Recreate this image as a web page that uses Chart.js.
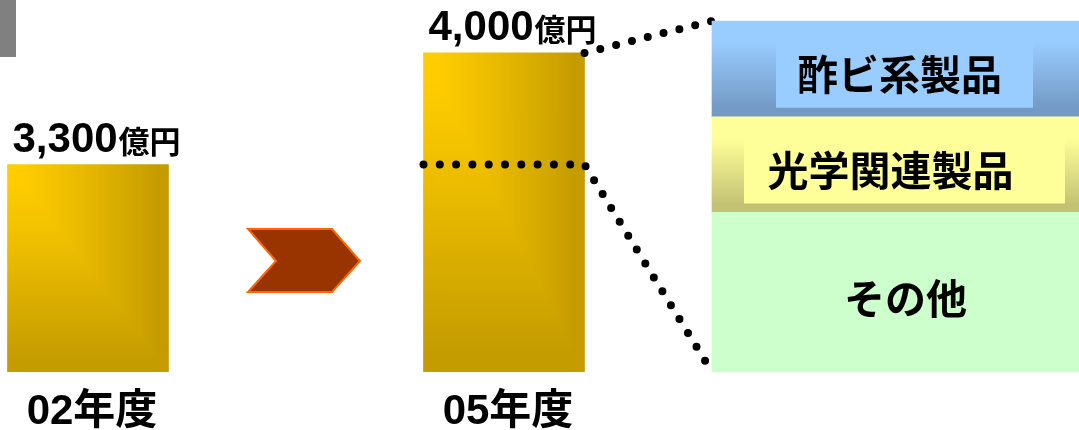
<!DOCTYPE html>
<html>
<head>
<meta charset="utf-8">
<script src="https://cdn.jsdelivr.net/npm/chart.js@4.4.1/dist/chart.umd.min.js"></script>
<style>
html,body{margin:0;padding:0;background:#fff;overflow:hidden;width:1079px;height:430px;}
#wrap{position:absolute;left:-16px;top:0;width:1095px;height:430px;}
#mark{position:absolute;left:0;top:0;width:16px;height:57px;background:#808080;}
</style>
</head>
<body>
<div id="wrap"><canvas id="c"></canvas></div>
<div id="mark"></div>
<script>
// ---- data ----
const categories = ['02年度', '', '05年度', '', ''];
const sales = [3300, null, 4000, null, null];
const salesUnit = '億円';
const segmentLabels = ['その他', '光学関連製品', '酢ビ系製品'];
const segmentShares = [5, 3, 3];
const arrowIndex = 1;
const breakdownIndex = 4;

// ---- styles ----
const barThickness = 161;
const segmentFills = [
  ['#CCFFCC', '#CCFFCC'],
  ['#FFFF99', '#C3C274'],
  ['#99CCFF', '#7399C4']
];
const segmentBoxes = [null, {w: 321, color: '#FFFF99'}, {w: 257, color: '#99CCFF'}];
const segmentTextDx = [10, -5, 4];
const CJK = '"Noto Sans CJK JP", "Noto Sans CJK SC", sans-serif';

const totalShare = segmentShares.reduce((a, b) => a + b, 0);

// rectangular "corner" gradient (bright at top-left, darker toward right and bottom)
const patternCache = {};
function cornerPattern(chartCtx, w, h) {
  w = Math.max(1, Math.round(w)); h = Math.max(1, Math.round(h));
  const key = w + 'x' + h;
  if (!patternCache[key]) {
    const off = document.createElement('canvas');
    off.width = w; off.height = h;
    const octx = off.getContext('2d');
    const img = octx.createImageData(w, h);
    const c0 = [255, 204, 0], c1 = [196, 156, 0];
    for (let y = 0; y < h; y++) {
      for (let x = 0; x < w; x++) {
        let t = Math.max((x / w - 0.08) / 0.85, (y / h - 0.08) / 0.85);
        t = Math.min(1, Math.max(0, t));
        t = Math.pow(t, 1.15);
        const p = (y * w + x) * 4;
        img.data[p] = c0[0] + (c1[0] - c0[0]) * t;
        img.data[p + 1] = c0[1] + (c1[1] - c0[1]) * t;
        img.data[p + 2] = 0;
        img.data[p + 3] = 255;
      }
    }
    octx.putImageData(img, 0, 0);
    patternCache[key] = off;
  }
  return chartCtx.createPattern(patternCache[key], 'no-repeat');
}

function barFill(ctx) {
  const chart = ctx.chart;
  const xs = chart.scales.x, ys = chart.scales.y;
  if (!chart.chartArea || !xs || !ys || ctx.raw == null) return '#E0B400';
  const left = xs.getPixelForValue(ctx.dataIndex) - barThickness / 2;
  const top = ys.getPixelForValue(ctx.raw);
  const bottom = ys.getPixelForValue(ys.min);
  const pat = cornerPattern(chart.ctx, barThickness + 2, bottom - top + 2);
  pat.setTransform(new DOMMatrix().translate(left - 1, top - 1));
  return pat;
}

function segFill(k) {
  return (ctx) => {
    const chart = ctx.chart;
    const s = chart.scales.y2;
    const [c0, c1] = segmentFills[k];
    if (!chart.chartArea || !s) return c0;
    const start = segmentShares.slice(0, k).reduce((a, b) => a + b, 0);
    const yTop = s.getPixelForValue(start + segmentShares[k]);
    const yBot = s.getPixelForValue(start);
    const g = chart.ctx.createLinearGradient(0, yTop, 0, yBot);
    g.addColorStop(0, c0);
    g.addColorStop(0.22, c0);
    g.addColorStop(0.92, c1);
    g.addColorStop(1, c1);
    return g;
  };
}

const datasets = [{
  label: '売上高',
  data: sales,
  yAxisID: 'y',
  barThickness: barThickness,
  grouped: false,
  order: 2,
  borderWidth: 0,
  backgroundColor: barFill
}].concat(segmentShares.map((v, k) => ({
  label: segmentLabels[k],
  data: categories.map((_, i) => (i === breakdownIndex ? v : null)),
  yAxisID: 'y2',
  stack: 'breakdown',
  barThickness: 416,
  grouped: false,
  clip: false,
  order: 1,
  borderWidth: 0,
  backgroundColor: segFill(k)
})));

const decor = {
  id: 'decor',
  beforeDatasetsDraw(chart) {
    const ctx = chart.ctx;
    const xs = chart.scales.x;
    const b = chart.chartArea.bottom;
    const cx = xs.getPixelForValue(arrowIndex);
    ctx.save();
    ctx.beginPath();
    ctx.moveTo(cx - 48, b - 143);
    ctx.lineTo(cx + 36, b - 143);
    ctx.lineTo(cx + 64, b - 111);
    ctx.lineTo(cx + 36, b - 80);
    ctx.lineTo(cx - 48, b - 80);
    ctx.lineTo(cx - 20, b - 111);
    ctx.closePath();
    ctx.fillStyle = '#993300';
    ctx.fill();
    ctx.strokeStyle = '#FF6600';
    ctx.lineWidth = 2;
    ctx.stroke();
    ctx.restore();
  },
  afterDatasetDraw(chart, args) {
    if (args.index !== 0) return;
    const ctx = chart.ctx;
    const ys = chart.scales.y, y2 = chart.scales.y2;
    const bar = chart.getDatasetMeta(0).data[2];
    const seg = chart.getDatasetMeta(1).data[breakdownIndex];
    const bl = bar.x - bar.width / 2, br = bar.x + bar.width / 2;
    const pl = seg.x - seg.width / 2;
    const yPrev = ys.getPixelForValue(sales[0]);
    const yCur = ys.getPixelForValue(sales[2]);
    ctx.save();
    ctx.strokeStyle = '#000';
    ctx.lineWidth = 8;
    ctx.lineCap = 'round';
    ctx.setLineDash([0, 16.3]);
    ctx.beginPath();
    ctx.moveTo(bl, yPrev);
    ctx.lineTo(br, yPrev);
    ctx.lineTo(pl, y2.getPixelForValue(0));
    ctx.stroke();
    ctx.beginPath();
    ctx.moveTo(br, yCur);
    ctx.lineTo(pl, y2.getPixelForValue(totalShare));
    ctx.stroke();
    ctx.restore();
  },
  afterDatasetsDraw(chart) {
    const ctx = chart.ctx;
    const xs = chart.scales.x;
    const area = chart.chartArea;
    ctx.save();
    // value labels
    const meta = chart.getDatasetMeta(0);
    sales.forEach((v, i) => {
      if (v == null) return;
      const el = meta.data[i];
      const left = el.x - el.width / 2 + 5;
      const base = el.y - 13;
      ctx.fillStyle = '#000';
      ctx.textAlign = 'left';
      ctx.textBaseline = 'alphabetic';
      ctx.font = 'bold 42px "Liberation Sans", Arial, sans-serif';
      const num = v.toLocaleString('en-US');
      ctx.fillText(num, left, base);
      const w = ctx.measureText(num).width;
      ctx.font = 'bold 31px ' + CJK;
      ctx.fillText(salesUnit, left + w + 1, base + 1);
    });
    // category labels
    ctx.font = 'bold 42px "Liberation Sans Narrow", "Liberation Sans", ' + CJK;
    ctx.textAlign = 'center';
    ctx.textBaseline = 'alphabetic';
    categories.forEach((c, i) => {
      if (!c) return;
      ctx.fillText(c, xs.getPixelForValue(i) + 4, area.bottom + 52);
    });
    // breakdown labels
    const canvasRight = chart.width;
    segmentLabels.forEach((lab, k) => {
      const el = chart.getDatasetMeta(k + 1).data[breakdownIndex];
      const pl = el.x - el.width / 2;
      const mid = (pl + canvasRight) / 2;
      const top = Math.min(el.y, el.base), bot = Math.max(el.y, el.base);
      const box = segmentBoxes[k];
      if (box) {
        ctx.fillStyle = box.color;
        ctx.fillRect(mid + 9 - box.w / 2, top + 16, box.w, bot - top - 25);
      }
      ctx.fillStyle = '#000';
      ctx.font = 'bold 41px ' + CJK;
      ctx.textAlign = 'center';
      ctx.textBaseline = 'middle';
      ctx.fillText(lab, mid + segmentTextDx[k], (top + bot) / 2 + 6);
    });
    ctx.restore();
  }
};

new Chart(document.getElementById('c'), {
  type: 'bar',
  data: { labels: categories, datasets },
  options: {
    responsive: true,
    maintainAspectRatio: false,
    animation: false,
    layout: { padding: { left: 0, right: 55, top: 21, bottom: 58 } },
    plugins: { legend: { display: false }, tooltip: { enabled: false } },
    scales: {
      x: { type: 'category', display: false, offset: true },
      y: { display: false, min: 2000, max: 4200 },
      y2: { display: false, min: 0, max: totalShare, stacked: true }
    }
  },
  plugins: [decor]
});
</script>
</body>
</html>
